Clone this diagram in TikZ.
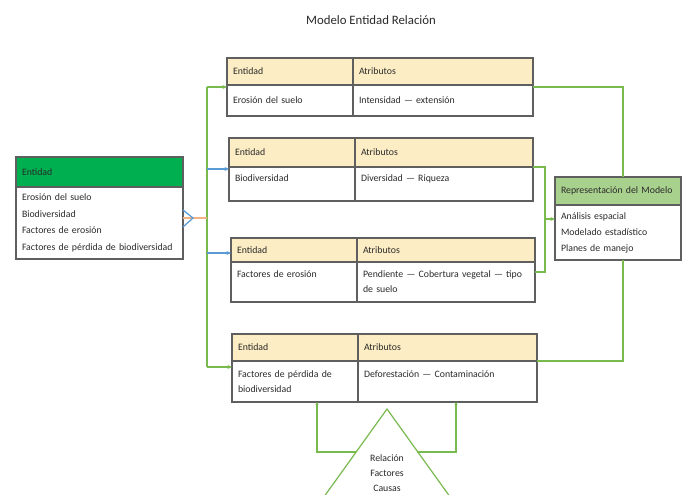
\documentclass[tikz,border=0pt]{standalone}
\usepackage{fontspec}
\setmainfont{Carlito}
\usetikzlibrary{arrows.meta}
\definecolor{tanc}{HTML}{FCEDC4}
\definecolor{dgreen}{HTML}{00B050}
\definecolor{lgreen}{HTML}{A9D18E}
\definecolor{linegreen}{HTML}{78BA4E}
\definecolor{bluel}{HTML}{5B9BD5}
\definecolor{orangel}{HTML}{F4B183}
\definecolor{bordc}{HTML}{5F5F5F}
\definecolor{textc}{HTML}{2A2A2A}
\tikzset{
  cell/.style={draw=bordc, line width=1.1pt, anchor=north west, inner xsep=6pt, inner ysep=0pt, outer sep=0pt, align=left, text=textc, font=\fontsize{9.8}{15}\selectfont},
  hcell/.style={cell, fill=tanc},
  bcell/.style={cell, fill=white},
  gconn/.style={draw=linegreen, line width=1.2pt},
  bconn/.style={draw=bluel, line width=1.2pt},
  oconn/.style={draw=orangel, line width=1.2pt},
  tip/.style={-{Stealth[length=4.5pt,width=4pt]}},
}
\begin{document}
\begin{tikzpicture}[x=1pt,y=-1pt]
\useasboundingbox (0,0) rectangle (683,495);
\clip (0,0) rectangle (683,495);
\fill[white] (0,0) rectangle (683,495);

\node[text=textc, font=\fontsize{12.8}{15}\selectfont] (title) at (371,20) {Modelo Entidad Relación};

% left box
\node[cell, fill=dgreen, text width=155pt, minimum height=30pt] (lh) at (16,157) {Entidad};
\node[bcell, text width=155pt, minimum height=72pt, font=\fontsize{9.8}{16.5}\selectfont] (lb) at (16,187)
  {Erosión del suelo\\Biodiversidad\\Factores de erosión\\Factores de pérdida de biodiversidad};

% table 1
\node[hcell, text width=114pt, minimum height=27pt] (e1h1) at (227,58) {Entidad};
\node[hcell, text width=168pt, minimum height=27pt] (e1h2) at (e1h1.north east) {Atributos};
\node[bcell, text width=114pt, minimum height=31pt] (e1b1) at (e1h1.south west) {Erosión del suelo};
\node[bcell, text width=168pt, minimum height=31pt] (e1b2) at (e1h2.south west) {Intensidad --- extensión};

% table 2
\node[hcell, text width=114pt, minimum height=29pt] (e2h1) at (229,138) {Entidad};
\node[hcell, text width=166pt, minimum height=29pt] (e2h2) at (e2h1.north east) {Atributos};
\node[bcell, text width=114pt, minimum height=34pt] (e2b1) at (e2h1.south west) {Biodiversidad\\[-4pt]\mbox{}};
\node[bcell, text width=166pt, minimum height=34pt] (e2b2) at (e2h2.south west) {Diversidad --- Riqueza\\[-4pt]\mbox{}};

% table 3
\node[hcell, text width=114pt, minimum height=24pt] (e3h1) at (231,238) {Entidad};
\node[hcell, text width=166pt, minimum height=24pt] (e3h2) at (e3h1.north east) {Atributos};
\node[bcell, text width=114pt, minimum height=40pt] (e3b1) at (e3h1.south west) {Factores de erosión\\\mbox{}};
\node[bcell, text width=166pt, minimum height=40pt] (e3b2) at (e3h2.south west) {Pendiente --- Cobertura vegetal --- tipo\\de suelo};

% table 4
\node[hcell, text width=114pt, minimum height=27pt] (e4h1) at (232,334) {Entidad};
\node[hcell, text width=167pt, minimum height=27pt] (e4h2) at (e4h1.north east) {Atributos};
\node[bcell, text width=114pt, minimum height=41pt] (e4b1) at (e4h1.south west) {Factores de pérdida de\\biodiversidad};
\node[bcell, text width=167pt, minimum height=41pt] (e4b2) at (e4h2.south west) {Deforestación --- Contaminación\\\mbox{}};

% right box
\node[cell, fill=lgreen, text width=114pt, minimum height=28pt] (rh) at (555,177) {Representación del Modelo};
\node[bcell, text width=114pt, minimum height=55pt, font=\fontsize{9.8}{16}\selectfont] (rb) at (rh.south west)
  {Análisis espacial\\Modelado estadístico\\Planes de manejo};

% left connectors
\coordinate (st) at (207,87);
\coordinate (sb) at (207,367);
\coordinate (s2) at (207,169);
\coordinate (s3) at (207,253);
\coordinate (o1) at (183,218);
\coordinate (cf) at (193,218);
\draw[gconn] (st) -- (sb);
\draw[gconn,tip] (st) -- (st -| e1h1.west);
\draw[gconn,tip] (sb) -- (sb -| e4b1.west);
\draw[bconn,tip] (s2) -- (s2 -| e2h1.west);
\draw[bconn,tip] (s3) -- (s3 -| e3h1.west);
\draw[oconn] (o1) -- (o1 -| st);
\draw[bconn] (lb.east |- 0,210) -- (cf) -- (lb.east |- 0,227);

% right connectors
\coordinate (r1) at (623,87);
\coordinate (r4) at (623,361);
\coordinate (k2) at (545,167);
\coordinate (k3) at (545,272);
\coordinate (km) at (545,219);
\draw[gconn] (e1b2.north east |- r1) -- (r1) -- (r1 |- rh.north);
\draw[gconn] (e4b2.north east) -- (r4) -- (r4 |- rb.south);
\draw[gconn] (e2b2.north east) -- (k2) -- (k3) -- (k3 -| e3b2.east);
\draw[gconn,tip] (km) -- (km -| rb.west);

% triangle
\coordinate (apex) at (387,409);
\coordinate (tbl) at (293,540);
\coordinate (tbr) at (481,540);
\draw[gconn] (tbl) -- (apex) -- (tbr);
\node[text=textc, align=center, font=\fontsize{9.8}{15}\selectfont] (rel) at (387,473) {Relación\\Factores\\Causas};
\coordinate (tl) at (356,452);
\coordinate (tr) at (417,452);
\coordinate (bl) at (317,452);
\coordinate (br) at (456,452);
\draw[gconn,-{Stealth[length=3pt,width=3pt]}] (tl) -- (bl) -- (bl |- e4b1.south);
\draw[gconn,-{Stealth[length=3pt,width=3pt]}] (tr) -- (br) -- (br |- e4b2.south);
\end{tikzpicture}
\end{document}
